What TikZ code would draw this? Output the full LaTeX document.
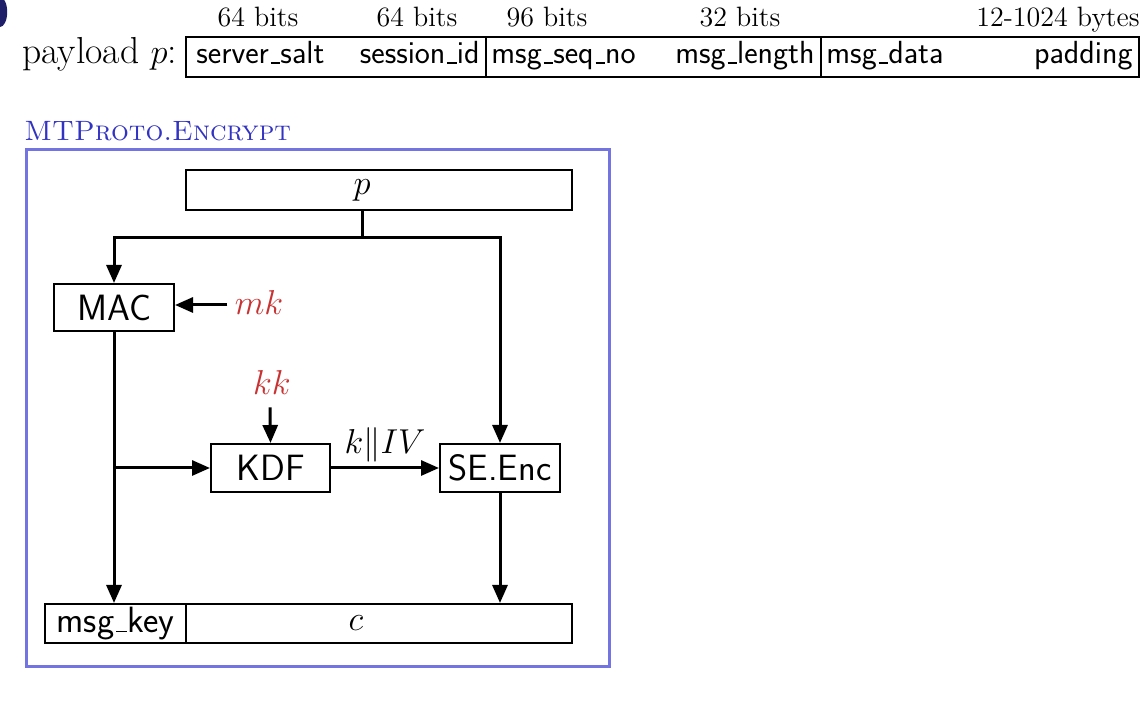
\documentclass[tikz,border=0pt]{standalone}
\usetikzlibrary{arrows.meta}
\definecolor{framecol}{RGB}{115,115,225}
\definecolor{titlecol}{RGB}{50,50,195}
\definecolor{keycol}{RGB}{200,50,50}
\definecolor{navy}{RGB}{30,30,105}
\newcommand{\usc}{\leavevmode\kern.06em\vbox{\hrule width .3em height .05em}}
\tikzset{
  x=0.5pt, y=-0.5pt,
  seg/.style={draw, line width=1pt, inner sep=0pt, minimum height=20pt},
  blk/.style={draw, line width=1pt, inner sep=0pt, font=\fontsize{18.3}{21}\selectfont\sffamily},
  toptxt/.style={inner sep=0pt, font=\fontsize{16}{19}\selectfont\sffamily},
  bitstxt/.style={inner sep=0pt, font=\fontsize{14}{16}\selectfont},
  mathtxt/.style={inner sep=0pt, font=\fontsize{16.5}{19}\selectfont},
  conn/.style={line width=1.5pt},
  arr/.style={conn, -{Triangle[length=9pt,width=7.5pt]}},
}
\begin{document}
\begin{tikzpicture}
\useasboundingbox (0,0) rectangle (1142,704);
\fill[white] (0,0) rectangle (1142,704);
\fill[navy] (0,12) ellipse [x radius=3.6pt, y radius=7.5pt];

% payload row
\node[inner sep=0pt, anchor=base west, font=\fontsize{18.8}{22}\selectfont] (plabel) at (22,64) {payload $p$:};
\node[seg, minimum width=150pt] (s1) at (336,57) {};
\node[seg, minimum width=167.5pt] (s2) at (653.5,57) {};
\node[seg, minimum width=159pt] (s3) at (980,57) {};
\node[toptxt, anchor=base west] (t1) at (196,64) {server\usc salt};
\node[toptxt, anchor=base east] (t2) at (480,64) {session\usc id};
\node[toptxt, anchor=base west] (t3) at (491,64) {msg\usc seq\usc no};
\node[toptxt, anchor=base east] (t4) at (815,64) {msg\usc length};
\node[toptxt, anchor=base west] (t5) at (826,64) {msg\usc data};
\node[toptxt, anchor=base east] (t6) at (1133,64) {padding};
\node[bitstxt, anchor=base] (b1) at (258,27) {64 bits};
\node[bitstxt, anchor=base] (b2) at (417,27) {64 bits};
\node[bitstxt, anchor=base] (b3) at (547,27) {96 bits};
\node[bitstxt, anchor=base] (b4) at (740,27) {32 bits};
\node[bitstxt, anchor=base east] (b5) at (1140,27) {12-1024 bytes};

% frame
\node[inner sep=0pt, anchor=base west, text=titlecol, font=\fontsize{14}{16}\selectfont] (title) at (24,141) {\textsc{MTProto.Encrypt}};
\draw[framecol, line width=1.5pt] (26.5,150) rectangle (609,667);

% blocks
\node[blk, minimum width=193pt, minimum height=20pt] (pbox) at (379,190) {};
\node[mathtxt] (ptext) at (362,190) {$p$};
\node[blk, minimum width=60pt, minimum height=23.5pt] (MAC) at (114,307.5) {MAC};
\node[mathtxt, text=keycol] (mk) at (259,303) {$mk$};
\node[blk, minimum width=59.5pt, minimum height=24pt] (KDF) at (270.5,468) {KDF};
\node[blk, minimum width=60pt, minimum height=24pt] (SEnc) at (500,468) {SE.Enc};
\node[mathtxt, text=keycol] (kk) at (272,383) {$kk$};
\node[blk, minimum width=70.5pt, minimum height=19.5pt] (msgkey) at (115.5,623.5) {msg\usc key};
\node[blk, minimum width=193pt, minimum height=19.5pt] (cbox) at (379,623.5) {};
\node[mathtxt] (ctext) at (356,623) {$c$};

% connectors
\coordinate (j) at (362,238);
\draw[conn] (ptext |- pbox.south) -- (j);
\draw[arr] (j) -| (MAC.north);
\draw[arr] (j) -| (SEnc.north);
\draw[arr] (mk.west) ++(-7,2) -- (MAC.east |- 0,305);
\draw[arr] (MAC.south) -- (MAC.south |- msgkey.north);
\draw[arr] (MAC.south |- KDF.west) -- (KDF.west);
\draw[arr] (kk.south) ++(-2,12) -- (KDF.north);
\draw[arr] (KDF.east) -- node[mathtxt, anchor=base, yshift=7pt] (kiv) {$k\|IV$} (SEnc.west);
\draw[arr] (SEnc.south) -- (SEnc.south |- cbox.north);
\end{tikzpicture}
\end{document}
